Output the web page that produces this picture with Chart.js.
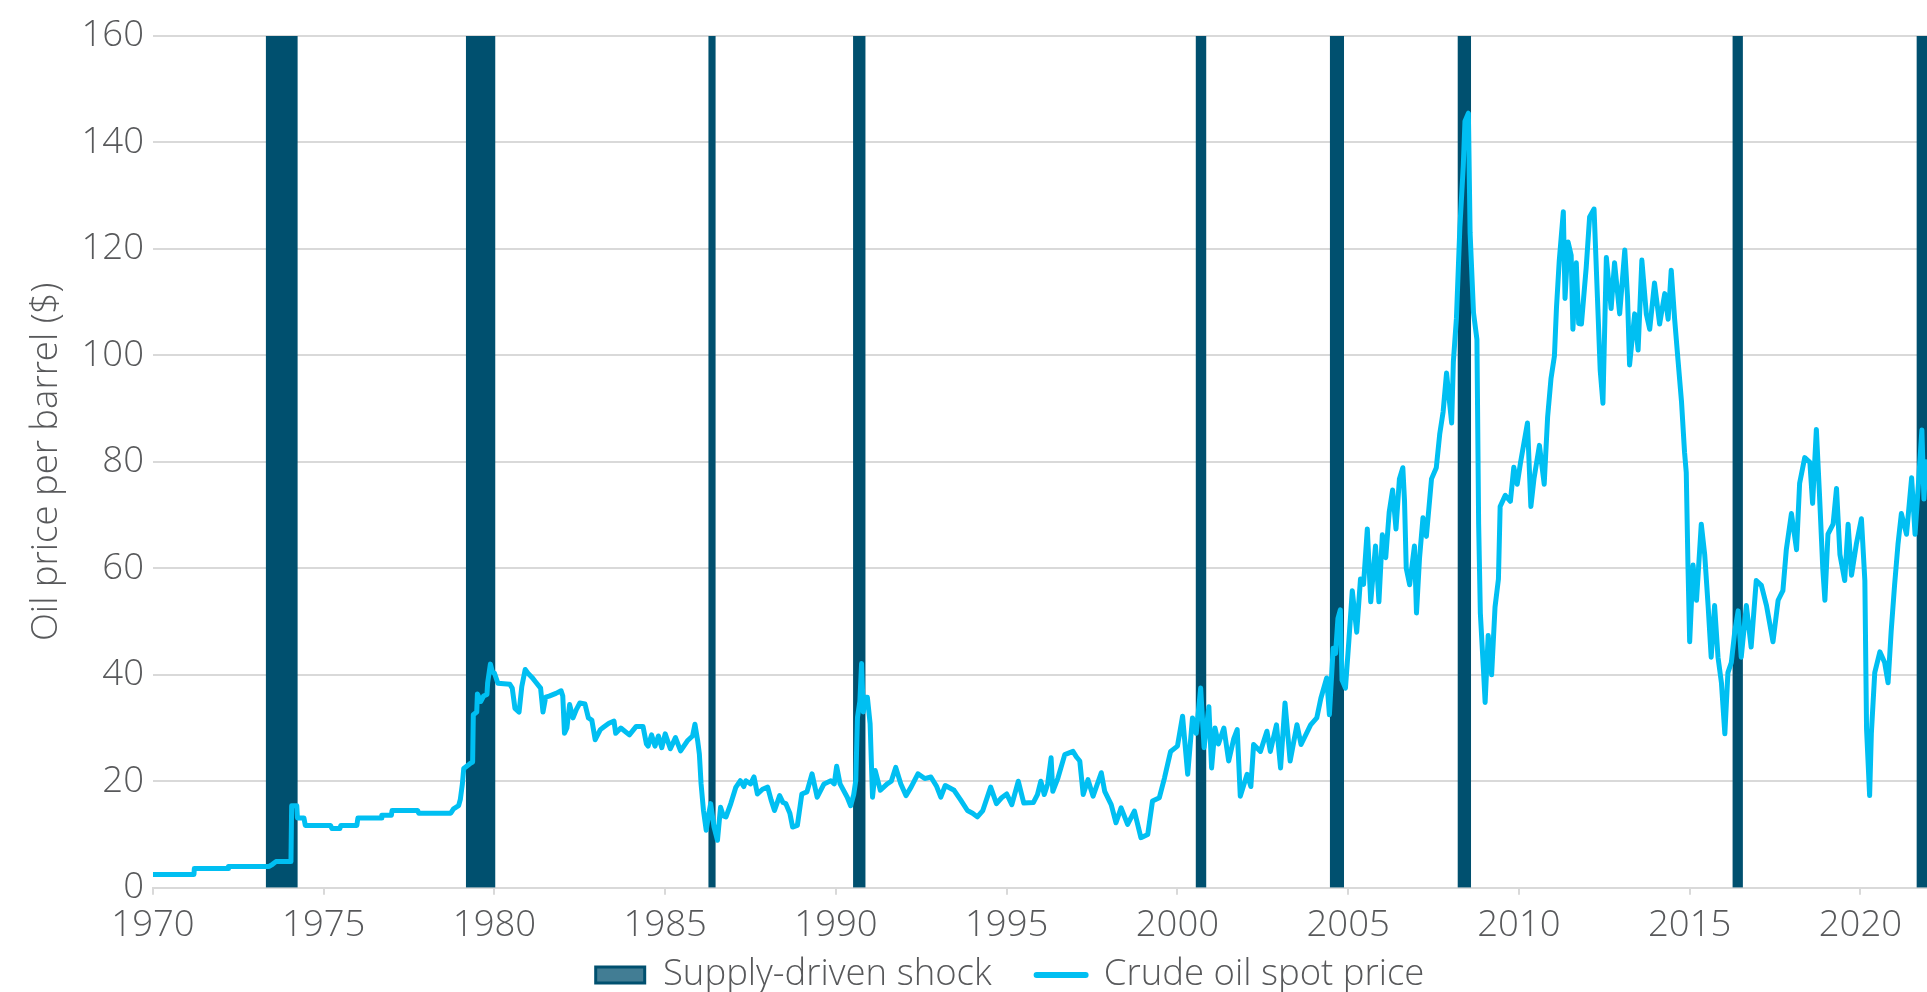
<!DOCTYPE html>
<html>
<head>
<meta charset="utf-8">
<title>Oil price and supply-driven shocks</title>
<script src="https://cdn.jsdelivr.net/npm/chart.js@4"></script>
<style>
  html, body { margin: 0; padding: 0; background: #fff; }
  #wrap { width: 1927px; height: 992px; }
</style>
</head>
<body>
<div id="wrap"><canvas id="chart" width="1927" height="992"></canvas></div>
<script>
// spot price samples: [decimal year, $ per barrel]
const spot1970s = [
  [1970.00, 2.5], [1971.20, 2.5], [1971.21, 3.6], [1972.20, 3.6], [1972.21, 4.0],
  [1973.40, 4.0], [1973.50, 4.4], [1973.60, 4.9], [1974.04, 4.9], [1974.06, 15.4],
  [1974.21, 15.4], [1974.23, 13.1], [1974.42, 13.1], [1974.46, 11.7], [1975.20, 11.7],
  [1975.24, 11.1], [1975.47, 11.1], [1975.50, 11.7], [1975.97, 11.7], [1976.00, 13.1],
  [1976.68, 13.1], [1976.70, 13.6], [1976.98, 13.6], [1977.00, 14.5], [1977.75, 14.5],
  [1977.78, 14.0], [1978.72, 14.0], [1978.80, 14.8], [1978.95, 15.4], [1979.00, 16.6],
  [1979.06, 19.5], [1979.10, 22.4], [1979.28, 23.3], [1979.36, 23.6], [1979.38, 32.5],
  [1979.48, 33.0], [1979.50, 36.4], [1979.60, 35.0], [1979.68, 36.0], [1979.78, 36.3],
  [1979.80, 38.5], [1979.88, 42.0], [1979.94, 40.5]
];
const spot1980s = [
  [1980.00, 40.3], [1980.10, 38.4], [1980.45, 38.2], [1980.52, 37.5], [1980.60, 33.7],
  [1980.72, 33.0], [1980.80, 37.8], [1980.90, 41.0], [1980.98, 40.3], [1981.10, 39.5],
  [1981.20, 38.7], [1981.35, 37.5], [1981.42, 33.0], [1981.50, 35.8], [1981.60, 36.0],
  [1981.80, 36.5], [1981.95, 37.0], [1982.00, 36.0], [1982.05, 29.0], [1982.12, 30.0],
  [1982.20, 34.4], [1982.30, 31.9], [1982.40, 33.5], [1982.50, 34.7], [1982.65, 34.5],
  [1982.75, 31.9], [1982.85, 31.5], [1982.95, 27.8], [1983.10, 29.7], [1983.20, 30.2],
  [1983.35, 30.9], [1983.50, 31.3], [1983.55, 29.0], [1983.70, 30.0], [1983.95, 28.7],
  [1984.15, 30.3], [1984.35, 30.3], [1984.45, 27.0], [1984.50, 26.6], [1984.60, 28.7],
  [1984.70, 26.6], [1984.80, 28.5], [1984.90, 26.3], [1985.00, 28.9], [1985.15, 26.1],
  [1985.30, 28.2], [1985.45, 25.7], [1985.65, 27.6], [1985.80, 28.5], [1985.87, 30.7],
  [1985.95, 27.6], [1986.00, 25.1], [1986.05, 19.5], [1986.12, 14.5], [1986.20, 10.8],
  [1986.28, 14.0], [1986.33, 15.8], [1986.43, 11.4], [1986.53, 8.9], [1986.62, 15.1],
  [1986.70, 13.5], [1986.78, 13.3], [1986.92, 15.8], [1987.07, 18.9], [1987.20, 20.1],
  [1987.30, 19.0], [1987.36, 20.1], [1987.50, 19.5], [1987.60, 20.8], [1987.70, 17.6],
  [1987.85, 18.5], [1988.00, 18.9], [1988.10, 16.5], [1988.20, 14.5], [1988.35, 17.3],
  [1988.45, 16.0], [1988.53, 15.8], [1988.65, 14.0], [1988.73, 11.4], [1988.87, 11.7],
  [1989.00, 17.6], [1989.15, 18.0], [1989.30, 21.4], [1989.45, 17.0], [1989.65, 19.5],
  [1989.85, 20.1], [1989.95, 19.5]
];
const spot1990s = [
  [1990.02, 22.8], [1990.12, 19.5], [1990.33, 17.0], [1990.43, 15.4], [1990.52, 17.5],
  [1990.58, 20.1], [1990.63, 32.0], [1990.70, 35.0], [1990.75, 42.1], [1990.80, 33.0],
  [1990.85, 35.8], [1990.92, 35.8], [1991.00, 30.8], [1991.07, 17.0], [1991.15, 22.0],
  [1991.30, 18.3], [1991.50, 19.5], [1991.62, 20.0], [1991.75, 22.6], [1991.90, 19.5],
  [1992.05, 17.3], [1992.20, 18.9], [1992.40, 21.4], [1992.60, 20.5], [1992.78, 20.8],
  [1992.95, 19.0], [1993.07, 17.0], [1993.20, 19.2], [1993.46, 18.3], [1993.65, 16.5],
  [1993.85, 14.5], [1994.00, 14.0], [1994.14, 13.3], [1994.30, 14.5], [1994.53, 18.9],
  [1994.70, 15.8], [1994.85, 16.9], [1995.00, 17.6], [1995.15, 15.6], [1995.34, 20.0],
  [1995.50, 15.9], [1995.78, 16.0], [1995.90, 17.5], [1996.00, 20.0], [1996.10, 17.5],
  [1996.20, 19.5], [1996.30, 24.4], [1996.35, 18.1], [1996.50, 20.6], [1996.70, 25.0],
  [1996.94, 25.6], [1997.05, 24.5], [1997.14, 23.8], [1997.24, 17.5], [1997.38, 20.3],
  [1997.53, 17.2], [1997.77, 21.6], [1997.87, 18.1], [1998.06, 15.6], [1998.20, 12.2],
  [1998.35, 15.0], [1998.54, 11.9], [1998.74, 14.4], [1998.93, 9.4], [1999.13, 10.0],
  [1999.27, 16.3], [1999.47, 16.9], [1999.62, 20.6], [1999.80, 25.6]
];
const spot2000s = [
  [2000.00, 26.6], [2000.15, 32.2], [2000.30, 21.3], [2000.44, 31.9], [2000.55, 29.0],
  [2000.68, 37.5], [2000.78, 26.3], [2000.92, 34.0], [2001.00, 22.5], [2001.10, 30.0],
  [2001.20, 27.0], [2001.36, 30.0], [2001.50, 23.8], [2001.65, 28.0], [2001.75, 29.7],
  [2001.84, 17.2], [2002.04, 21.3], [2002.15, 19.0], [2002.23, 26.9], [2002.43, 25.6],
  [2002.62, 29.4], [2002.72, 25.6], [2002.90, 30.6], [2003.02, 22.5], [2003.15, 34.7],
  [2003.30, 23.8], [2003.50, 30.6], [2003.62, 26.9], [2003.90, 30.6], [2004.08, 31.9],
  [2004.20, 35.6], [2004.37, 39.4], [2004.45, 32.5], [2004.56, 45.0], [2004.63, 44.0],
  [2004.70, 50.6], [2004.77, 52.2], [2004.82, 39.0], [2004.92, 37.5], [2005.02, 46.4],
  [2005.12, 55.8], [2005.25, 48.0], [2005.36, 58.0], [2005.45, 57.0], [2005.56, 67.4],
  [2005.66, 53.7], [2005.80, 64.2], [2005.90, 53.7], [2006.00, 66.3], [2006.10, 62.0],
  [2006.20, 70.5], [2006.30, 74.7], [2006.40, 67.4], [2006.50, 76.8], [2006.60, 78.9],
  [2006.65, 72.6], [2006.70, 60.0], [2006.80, 56.9], [2006.94, 64.2], [2007.00, 51.6],
  [2007.09, 62.0], [2007.19, 69.5], [2007.29, 66.0], [2007.44, 76.8], [2007.58, 78.9],
  [2007.68, 85.2], [2007.78, 89.4], [2007.88, 96.7], [2008.03, 87.3], [2008.08, 98.8],
  [2008.17, 107.0], [2008.27, 124.0], [2008.37, 135.6], [2008.42, 144.0], [2008.52, 145.5],
  [2008.57, 123.0], [2008.67, 108.0], [2008.77, 103.0], [2008.82, 68.4], [2008.87, 51.6],
  [2008.96, 41.1], [2009.01, 34.8], [2009.10, 47.4], [2009.20, 40.0], [2009.30, 52.7],
  [2009.40, 58.0], [2009.45, 71.6], [2009.60, 73.7], [2009.75, 72.6], [2009.85, 79.0],
  [2009.95, 75.8]
];
const spot2010s = [
  [2010.05, 80.0], [2010.25, 87.3], [2010.35, 71.6], [2010.44, 76.8], [2010.60, 83.1],
  [2010.74, 75.8], [2010.84, 88.4], [2010.94, 95.7], [2011.04, 99.9], [2011.10, 109.0],
  [2011.18, 117.7], [2011.30, 127.0], [2011.35, 110.7], [2011.44, 121.3], [2011.53, 118.8],
  [2011.58, 104.9], [2011.68, 117.4], [2011.75, 106.0], [2011.83, 105.9], [2011.97, 116.5],
  [2012.07, 126.0], [2012.20, 127.5], [2012.30, 110.7], [2012.38, 97.2], [2012.46, 91.0],
  [2012.56, 118.4], [2012.70, 108.8], [2012.80, 117.4], [2012.95, 107.8], [2013.10, 119.8],
  [2013.18, 111.0], [2013.24, 98.2], [2013.39, 107.8], [2013.49, 101.0], [2013.60, 117.9],
  [2013.73, 107.8], [2013.83, 104.9], [2013.97, 113.6], [2014.12, 105.9], [2014.27, 111.6],
  [2014.37, 106.8], [2014.46, 116.0], [2014.56, 106.8], [2014.66, 99.0], [2014.76, 91.4],
  [2014.85, 81.8], [2014.90, 78.0], [2014.95, 60.6], [2015.00, 46.2], [2015.10, 60.6],
  [2015.20, 54.0], [2015.34, 68.3], [2015.44, 62.6], [2015.54, 53.0], [2015.63, 43.3],
  [2015.73, 53.0], [2015.83, 43.3], [2015.93, 38.5], [2016.03, 28.9], [2016.12, 40.4],
  [2016.22, 42.3], [2016.32, 48.1], [2016.42, 52.0], [2016.51, 43.3], [2016.66, 53.0],
  [2016.80, 45.2], [2016.95, 57.7], [2017.10, 56.8], [2017.25, 53.0], [2017.44, 46.2],
  [2017.59, 54.0], [2017.73, 55.8], [2017.83, 63.5], [2017.98, 70.3], [2018.13, 63.5],
  [2018.22, 76.0], [2018.37, 80.8], [2018.52, 79.9], [2018.60, 72.2], [2018.71, 86.1],
  [2018.80, 74.1], [2018.90, 59.7], [2018.96, 54.0], [2019.05, 66.4], [2019.20, 68.3],
  [2019.30, 75.0], [2019.40, 62.6], [2019.54, 57.7], [2019.64, 68.3], [2019.74, 58.7],
  [2019.88, 64.5]
];
const spot2020s = [
  [2020.03, 69.3], [2020.13, 57.7], [2020.18, 29.8], [2020.27, 17.3], [2020.32, 28.9],
  [2020.42, 40.4], [2020.57, 44.3], [2020.71, 42.3], [2020.81, 38.5], [2020.90, 48.1],
  [2021.00, 56.8], [2021.10, 64.5], [2021.20, 70.3], [2021.35, 66.4], [2021.50, 77.0],
  [2021.60, 66.4], [2021.70, 76.0], [2021.80, 86.0], [2021.86, 73.0], [2021.92, 80.0]
];

// supply-driven shock periods (decimal years)
const shockStarts = [1973.30, 1979.16, 1986.26, 1990.50, 2000.53, 2004.46, 2008.20, 2016.25, 2021.64];
const shockEnds   = [1974.24, 1980.03, 1986.48, 1990.87, 2000.85, 2004.88, 2008.60, 2016.56, 2021.95];

const yearMin = 1970;
const yearMax = 2021.95;
const priceMax = 160;

const spotPoints = [...spot1970s, ...spot1980s, ...spot1990s, ...spot2000s, ...spot2010s, ...spot2020s]
  .map(([x, y]) => ({ x, y }));

// each shock is a flat top at priceMax filled down to 0, split by a gap
const shockPoints = [];
shockStarts.forEach((s, i) => {
  shockPoints.push({ x: s, y: priceMax }, { x: shockEnds[i], y: priceMax }, { x: shockEnds[i], y: null });
});

const textColor = "#58595b";
const gridColor = "#d9d9d9";
const font = { family: "'Open Sans', Lato, sans-serif", size: 36.5, weight: 300 };

// the axes are packed tight against the legend, so let their labels draw past their own boxes
const labelRoom = {
  id: "labelRoom",
  afterLayout(chart) {
    chart.scales.x.bottom = chart.height;
    chart.scales.y.left = 0;
  }
};

new Chart(document.getElementById("chart").getContext("2d"), {
  type: "line",
  data: {
    datasets: [
      {
        label: "Supply-driven shock",
        data: shockPoints,
        backgroundColor: "#00506f",
        borderColor: "#00506f",
        borderWidth: 0,
        pointRadius: 0,
        fill: "origin",
        spanGaps: false,
        order: 1
      },
      {
        label: "Crude oil spot price",
        data: spotPoints,
        borderColor: "#00bff2",
        backgroundColor: "#00bff2",
        borderWidth: 5,
        borderJoinStyle: "round",
        borderCapStyle: "round",
        pointRadius: 0,
        tension: 0,
        fill: false,
        order: 0
      }
    ]
  },
  plugins: [labelRoom],
  options: {
    responsive: false,
    animation: false,
    devicePixelRatio: 1,
    layout: { padding: { left: 93, right: 0, top: 36, bottom: -11.2 } },
    plugins: {
      tooltip: { enabled: false },
      legend: {
        position: "bottom",
        labels: {
          usePointStyle: true,
          pointStyleWidth: 49,
          boxHeight: 16,
          padding: 45,
          color: textColor,
          font: font,
          generateLabels(chart) {
            const items = Chart.defaults.plugins.legend.labels.generateLabels(chart);
            items.forEach(item => {
              if (item.datasetIndex === 0) {
                item.pointStyle = "rect";
                item.fillStyle = "rgba(0, 80, 111, 0.74)";
                item.strokeStyle = "#00506f";
                item.lineWidth = 3;
              } else {
                item.pointStyle = "line";
                item.strokeStyle = "#00bff2";
                item.lineWidth = 6;
                item.lineCap = "round";
              }
            });
            return items.sort((a, b) => a.datasetIndex - b.datasetIndex);
          }
        }
      }
    },
    scales: {
      x: {
        type: "linear",
        min: yearMin,
        max: yearMax,
        afterFit: scale => { scale.height = 24; },
        grid: { drawOnChartArea: false, drawTicks: true, tickLength: 7, color: gridColor, lineWidth: 2 },
        border: { display: true, color: gridColor, width: 2 },
        ticks: {
          stepSize: 5,
          includeBounds: false,
          autoSkip: false,
          maxRotation: 0,
          padding: 16.9,
          color: textColor,
          font: { ...font, lineHeight: 0.75 },
          callback: v => String(v)
        }
      },
      y: {
        min: 0,
        max: priceMax,
        afterFit: scale => { scale.width = 60; },
        grid: { color: gridColor, lineWidth: 2, drawTicks: false },
        border: { display: false },
        ticks: { stepSize: 20, padding: 9, color: textColor, font: font },
        title: {
          display: true,
          text: "Oil price per barrel ($)",
          color: textColor,
          font: font,
          padding: { top: 25, bottom: 0 }
        }
      }
    }
  }
});
</script>
</body>
</html>
